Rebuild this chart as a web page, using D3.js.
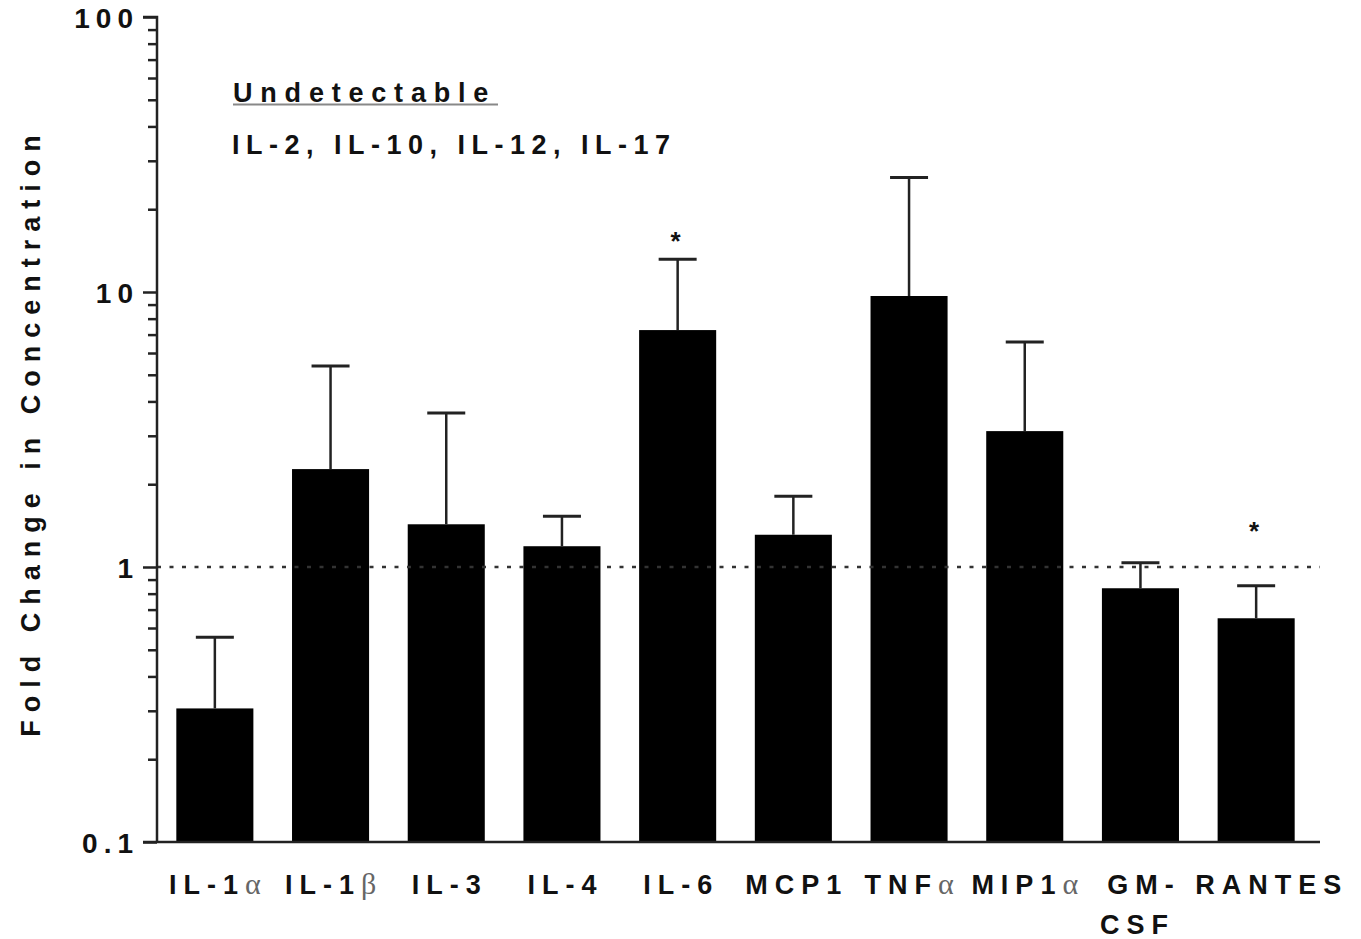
<!DOCTYPE html>
<html><head><meta charset="utf-8">
<script src="https://cdn.jsdelivr.net/npm/d3@7"></script>
<style>body{margin:0;background:#fff}</style>
</head><body>
<svg id="chart" width="1361" height="939"></svg>
<script>
const categories = ["IL-1α","IL-1β","IL-3","IL-4","IL-6","MCP1","TNFα","MIP1α","GM-CSF","RANTES"];
const labelMain = ["IL-1","IL-1","IL-3","IL-4","IL-6","MCP1","TNF","MIP1","GM-","RANTES"];
const labelGreek = ["α","β","","","","","α","α","",""];
const labelLine2 = ["","","","","","","","","CSF",""];
const means = [0.306, 2.27, 1.43, 1.19, 7.27, 1.31, 9.67, 3.12, 0.837, 0.651];
const errUpper = [0.555, 5.38, 3.63, 1.53, 13.15, 1.81, 26.1, 6.58, 1.037, 0.855];
const starValues = [null, null, null, null, 16.3, null, null, null, null, 1.43];
const majorTicks = [0.1, 1, 10, 100];
const majorTickLabels = ["0.1","1","10","100"];
const referenceLine = 1;
const noteTitle = "Undetectable";
const noteBody = "IL-2, IL-10, IL-12, IL-17";
const yTitle = "Fold Change in Concentration";

const FONT = "Liberation Sans, Arial, sans-serif";
const svg = d3.select("#chart");
const x = d3.scaleBand().domain(categories).range([157, 1314]).paddingInner(0.334).paddingOuter(0.167);
const y = d3.scaleLog().domain([0.1, 100]).range([842, 17]);

const minorTicks = [];
for (let d = 0.1; d < 100; d *= 10) for (let k = 2; k <= 9; k++) minorTicks.push(+(d*k).toPrecision(3));

// bars
svg.append("g").selectAll("rect").data(categories).join("rect")
  .attr("x", d => x(d)).attr("width", x.bandwidth())
  .attr("y", (d,i) => y(means[i])).attr("height", (d,i) => y(0.1) - y(means[i]))
  .attr("fill", "#000");

// error bars
const eg = svg.append("g").attr("stroke", "#222").attr("stroke-width", 2.5);
categories.forEach((c,i) => {
  const cx = x(c) + x.bandwidth()/2;
  eg.append("line").attr("x1", cx).attr("x2", cx).attr("y1", y(means[i])).attr("y2", y(errUpper[i]));
  eg.append("line").attr("x1", cx-19).attr("x2", cx+19).attr("y1", y(errUpper[i])).attr("y2", y(errUpper[i])).attr("stroke-width", 3);
});

// significance stars
categories.forEach((c,i) => {
  if (starValues[i] == null) return;
  svg.append("text").attr("x", x(c) + x.bandwidth()/2 - 2).attr("y", y(starValues[i]) + 16)
    .attr("text-anchor", "middle").attr("font-family", FONT).attr("font-weight", "bold")
    .attr("font-size", 26).attr("fill", "#111").text("*");
});

// reference dotted line
svg.append("line").attr("x1", 157).attr("x2", 1320).attr("y1", y(referenceLine)).attr("y2", y(referenceLine))
  .attr("stroke", "#333").attr("stroke-width", 2.5).attr("stroke-dasharray", "4,8.5");

// y axis
const yAxis = d3.axisLeft(y).tickValues(majorTicks).tickSize(14).tickFormat((d,i) => majorTickLabels[i]).tickPadding(4);
const ga = svg.append("g").attr("transform", "translate(157,0)").call(yAxis);
ga.select(".domain").attr("stroke", "#222").attr("stroke-width", 2.5).attr("d", "M-14,17H0V842");
ga.selectAll(".tick line").attr("stroke", "#222").attr("stroke-width", 2.5);
ga.selectAll(".tick text").attr("font-family", FONT).attr("font-weight", "bold")
  .attr("font-size", 28).attr("letter-spacing", 6).attr("fill", "#111").attr("dy", "0.36em");
const gm = svg.append("g").attr("transform", "translate(157,0)").call(d3.axisLeft(y).tickValues(minorTicks).tickSize(9).tickFormat(""));
gm.select(".domain").remove();
gm.selectAll(".tick line").attr("stroke", "#222").attr("stroke-width", 2.5);

// x baseline
svg.append("line").attr("x1", 143).attr("x2", 1320).attr("y1", 842).attr("y2", 842).attr("stroke", "#222").attr("stroke-width", 2.5);

// category labels
const lab = svg.append("g").attr("font-family", FONT).attr("font-weight", "bold").attr("font-size", 27).attr("fill", "#111");
categories.forEach((c,i) => {
  const cx = x(c) + x.bandwidth()/2;
  const shift = i === categories.length - 1 ? 12 : 0;
  const t = lab.append("text").attr("x", cx + 3.5 + shift).attr("y", 894).attr("text-anchor", "middle").attr("letter-spacing", 7);
  t.append("tspan").text(labelMain[i]);
  if (labelGreek[i]) t.append("tspan").attr("font-family", "Liberation Serif, Times New Roman, serif").attr("font-weight", "normal").attr("fill", "#666").attr("font-size", 30).text(labelGreek[i]);
  if (labelLine2[i]) lab.append("text").attr("x", cx - 3).attr("y", 934).attr("text-anchor", "middle").attr("letter-spacing", 7).text(labelLine2[i]);
});

// note
const note = svg.append("g").attr("font-family", FONT).attr("font-weight", "bold").attr("font-size", 27).attr("fill", "#111");
note.append("text").attr("x", 233).attr("y", 102).attr("letter-spacing", 7.8).text(noteTitle);
note.append("line").attr("x1", 233).attr("x2", 498).attr("y1", 104.5).attr("y2", 104.5).attr("stroke", "#888").attr("stroke-width", 2);
note.append("text").attr("x", 232).attr("y", 154).attr("letter-spacing", 6.5).text(noteBody);

// y title
svg.append("text").attr("transform", "translate(40,432) rotate(-90)").attr("text-anchor", "middle")
  .attr("font-family", FONT).attr("font-weight", "bold").attr("font-size", 27)
  .attr("letter-spacing", 8).attr("fill", "#111").text(yTitle);
</script>
</body></html>
